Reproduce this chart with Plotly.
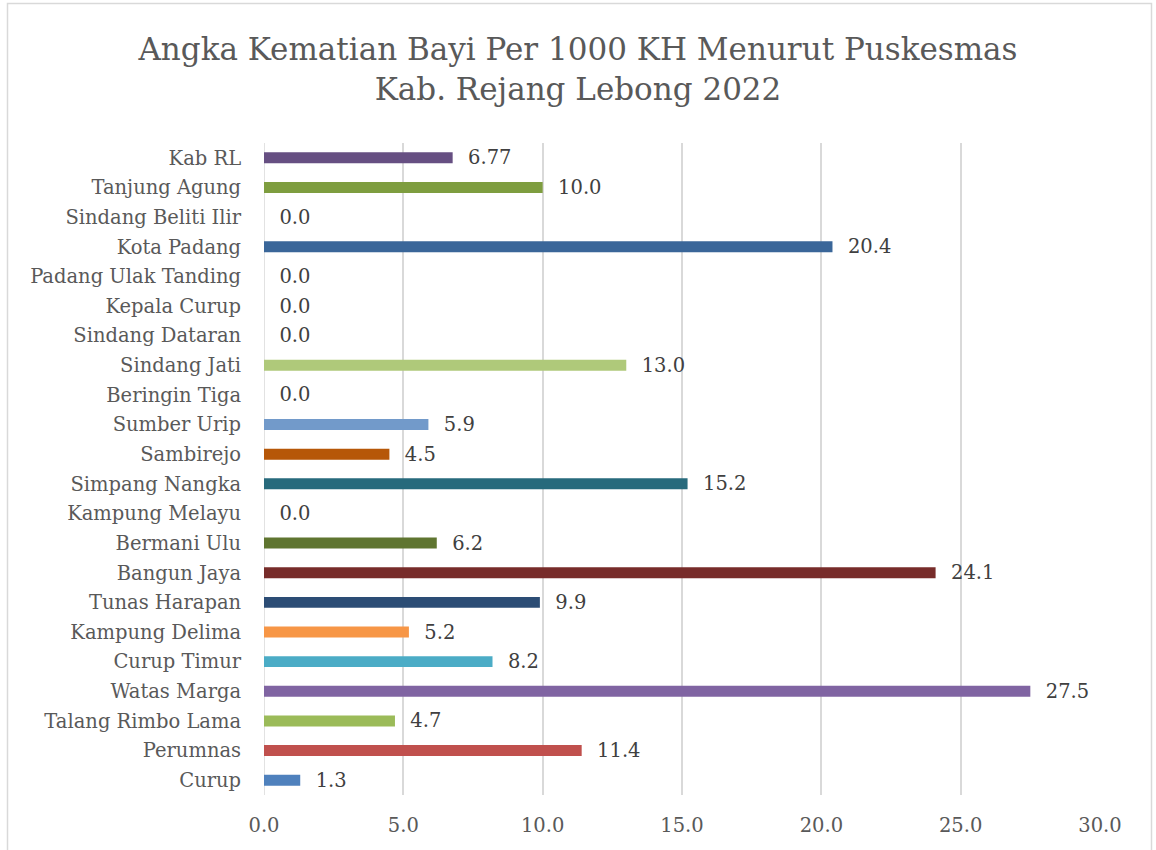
import plotly.graph_objects as go

categories = ["Curup", "Perumnas", "Talang Rimbo Lama", "Watas Marga", "Curup Timur",
              "Kampung Delima", "Tunas Harapan", "Bangun Jaya", "Bermani Ulu",
              "Kampung Melayu", "Simpang Nangka", "Sambirejo", "Sumber Urip",
              "Beringin Tiga", "Sindang Jati", "Sindang Dataran", "Kepala Curup",
              "Padang Ulak Tanding", "Kota Padang", "Sindang Beliti Ilir",
              "Tanjung Agung", "Kab RL"]
values = [1.3, 11.4, 4.7, 27.5, 8.2, 5.2, 9.9, 24.1, 6.2, 0.0, 15.2, 4.5, 5.9,
          0.0, 13.0, 0.0, 0.0, 0.0, 20.4, 0.0, 10.0, 6.77]
labels = ["1.3", "11.4", "4.7", "27.5", "8.2", "5.2", "9.9", "24.1", "6.2", "0.0",
          "15.2", "4.5", "5.9", "0.0", "13.0", "0.0", "0.0", "0.0", "20.4", "0.0",
          "10.0", "6.77"]
colors = ["#4F81BD", "#C0504D", "#9BBB59", "#8064A2", "#4BACC6", "#F79646",
          "#2C4D75", "#772C2A", "#5F7530", "#4D3B62", "#276A7C", "#B65708",
          "#729ACA", "#CD7371", "#AFC97A", "#A18CBA", "#6FBDD1", "#F9AB6B",
          "#3A6699", "#9B3D3B", "#7E9D3F", "#664F82"]
x_ticks = [0, 5, 10, 15, 20, 25, 30]
x_tick_text = ["0.0", "5.0", "10.0", "15.0", "20.0", "25.0", "30.0"]

FONT = "DejaVu Serif"
PAD = "\u00a0\u00a0"

fig = go.Figure(go.Bar(
    x=values, y=categories, orientation="h",
    marker=dict(color=colors, line=dict(width=0)),
    width=0.37,
    text=[PAD + t for t in labels], textposition="outside", cliponaxis=False,
    constraintext="none", textangle=0,
    textfont=dict(family=FONT, size=19.5, color="#404040"),
))

W, H = 1156, 850
L, R, T, B = 264, 56, 143, 55
pw, ph = W - L - R, H - T - B

def px_x(px):
    return (px - L) / pw

def px_y(py):
    return (H - B - py) / ph

fig.update_layout(
    width=W, height=H,
    margin=dict(l=L, r=R, t=T, b=B),
    paper_bgcolor="white", plot_bgcolor="white",
    showlegend=False,
    font=dict(family=FONT, color="#595959"),
    title=dict(
        text="Angka Kematian Bayi Per 1000 KH Menurut Puskesmas<br>Kab. Rejang Lebong 2022",
        x=0.5, xanchor="center", y=0.930, yanchor="top", yref="container",
        font=dict(family=FONT, size=31, color="#595959"),
    ),
    xaxis=dict(
        range=[0, 30], tickvals=x_ticks, ticktext=x_tick_text,
        showgrid=True, gridcolor="#D9D9D9", gridwidth=1.5,
        zeroline=False, showline=False,
        tickfont=dict(family=FONT, size=19.5, color="#595959"),
        ticks="outside", ticklen=13, tickcolor="rgba(0,0,0,0)",
        fixedrange=True,
    ),
    yaxis=dict(
        categoryorder="array", categoryarray=categories,
        showgrid=False, zeroline=False, showline=False,
        tickfont=dict(family=FONT, size=19.5, color="#595959"),
        ticks="outside", ticklen=18, tickcolor="rgba(0,0,0,0)",
        range=[-0.5, len(categories) - 0.5],
        fixedrange=True,
    ),
)

# vertical axis line at zero
fig.add_shape(type="line", xref="x", yref="paper", x0=0, x1=0, y0=0, y1=1,
              line=dict(color="#D9D9D9", width=1.5), layer="below")

# chart-area border
fig.add_shape(type="rect", xref="paper", yref="paper",
              x0=px_x(7.5), x1=px_x(1151.5), y0=px_y(870), y1=px_y(3.5),
              line=dict(color="#D9D9D9", width=1.5), fillcolor="rgba(0,0,0,0)")

fig.write_html("out.html", config={"displayModeBar": False},
               post_script="document.body.style.margin='0';document.body.style.overflow='hidden';")
